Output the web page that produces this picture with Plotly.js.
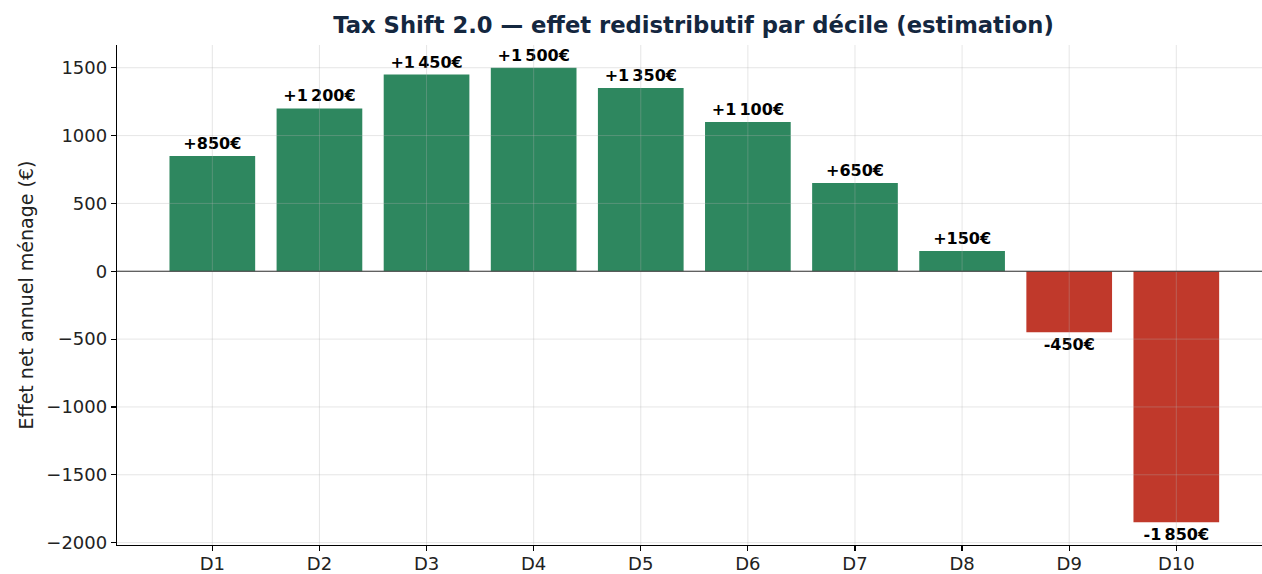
<!DOCTYPE html>
<html>
<head>
<meta charset="utf-8">
<script src="https://cdn.plot.ly/plotly-3.0.1.min.js"></script>
<style>html,body{margin:0;padding:0;background:#fff;}#chart{width:1262px;height:574px;}</style>
</head>
<body>
<div id="chart"></div>
<script>
const deciles = ["D1","D2","D3","D4","D5","D6","D7","D8","D9","D10"];
const netEffect = [850, 1200, 1450, 1500, 1350, 1100, 650, 150, -450, -1850];
const yTicks = [-2000, -1500, -1000, -500, 0, 500, 1000, 1500];
const titleText = "Tax Shift 2.0 — effet redistributif par décile (estimation)";
const yTitle = "Effet net annuel ménage (€)";

const GREEN = "#2e875f";
const RED = "#c0392b";
const FONT = "DejaVu Sans, sans-serif";

function fmt(v) {
  const a = Math.abs(v).toString().replace(/\B(?=(\d{3})+(?!\d))/g, "\u202F");
  return (v >= 0 ? "+" : "-") + a + "€";
}

const trace = {
  type: "bar",
  x: deciles.map((d, i) => i),
  y: netEffect,
  width: 0.8,
  marker: { color: netEffect.map(v => v >= 0 ? GREEN : RED), line: { width: 0 } },
  text: netEffect.map(v => "<b>" + fmt(v) + "</b>"),
  textposition: "outside",
  textfont: { family: FONT, size: 16, color: "#000" },
  constraintext: "none",
  cliponaxis: false,
  hoverinfo: "skip"
};

const gridColor = "rgba(176,176,176,0.32)";
const shapes = [];
yTicks.forEach(t => shapes.push({ type: "line", xref: "paper", yref: "y", x0: 0, x1: 1, y0: t, y1: t, layer: "above", line: { color: gridColor, width: 1 } }));
deciles.forEach((d, i) => shapes.push({ type: "line", xref: "x", yref: "paper", x0: i, x1: i, y0: 0, y1: 1, layer: "above", line: { color: gridColor, width: 1 } }));
shapes.push({ type: "line", xref: "paper", yref: "y", x0: 0, x1: 1, y0: 0, y1: 0, layer: "above", line: { color: "#333333", width: 1.2 } });

const layout = {
  width: 1262, height: 574,
  margin: { l: 117, r: 0, t: 45, b: 29 },
  paper_bgcolor: "#fff", plot_bgcolor: "#fff",
  font: { family: FONT, size: 18, color: "#222" },
  showlegend: false,
  title: { text: "<b>" + titleText + "</b>", font: { family: FONT, size: 22.7, color: "#14273f" }, x: 0.5035, xref: "paper", xanchor: "center", y: 1 - 25/574, yref: "container", yanchor: "middle" },
  xaxis: {
    range: [-0.89, 9.80],
    tickvals: deciles.map((d, i) => i), ticktext: deciles,
    showgrid: false, zeroline: false,
    showline: true, linecolor: "#000", linewidth: 1.2,
    ticks: "outside", ticklen: 5, tickwidth: 1.2, tickcolor: "#000",
    ticklabelstandoff: -3,
    tickfont: { family: FONT, size: 18, color: "#222" }
  },
  yaxis: {
    range: [-2017.5, 1667.5],
    tickvals: yTicks,
    showgrid: false, zeroline: false,
    showline: true, linecolor: "#000", linewidth: 1.2,
    ticks: "outside", ticklen: 5, tickwidth: 1.2, tickcolor: "#000",
    tickfont: { family: FONT, size: 18, color: "#222" },
    title: { text: yTitle, font: { family: FONT, size: 19, color: "#222" }, standoff: 7 }
  },
  shapes: shapes
};

Plotly.newPlot("chart", [trace], layout, { displayModeBar: false, staticPlot: true });
</script>
</body>
</html>
